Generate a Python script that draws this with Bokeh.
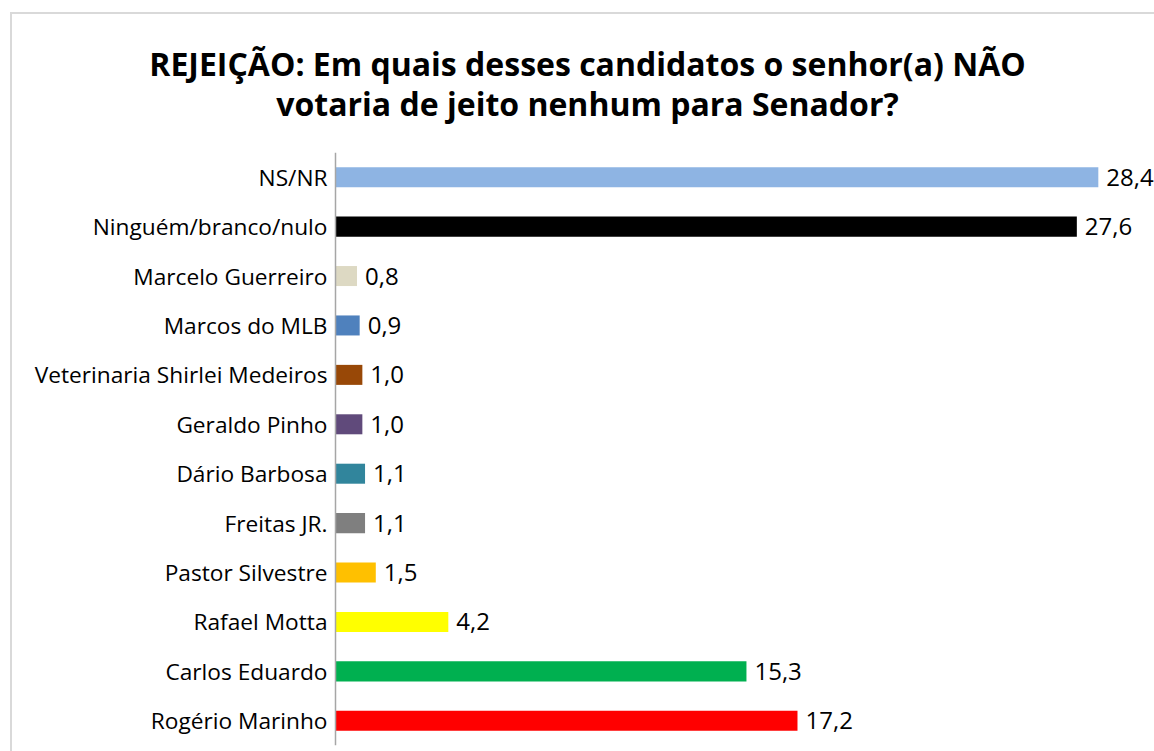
from bokeh.plotting import figure
from bokeh.models import ColumnDataSource, FactorRange, Range1d, LabelSet, Title, InlineStyleSheet
from bokeh.core.properties import value
from bokeh.embed import file_html
from bokeh.resources import INLINE

# Data (top to bottom as shown)
categories = ["NS/NR", "Ninguém/branco/nulo", "Marcelo Guerreiro", "Marcos do MLB",
              "Veterinaria Shirlei Medeiros", "Geraldo Pinho", "Dário Barbosa",
              "Freitas JR.", "Pastor Silvestre", "Rafael Motta", "Carlos Eduardo",
              "Rogério Marinho"]
values = [28.4, 27.6, 0.8, 0.9, 1.0, 1.0, 1.1, 1.1, 1.5, 4.2, 15.3, 17.2]
colors = ["#8EB4E3", "#000000", "#DDD9C3", "#4F81BD", "#984807", "#604A7B",
          "#31859C", "#7F7F7F", "#FFC000", "#FFFF00", "#00B050", "#FF0000"]
title_lines = ["REJEIÇÃO: Em quais desses candidatos o senhor(a) NÃO",
               "votaria de jeito nenhum para Senador?"]

labels = [f"{v:.1f}".replace(".", ",") for v in values]
source = ColumnDataSource(dict(cat=categories, val=values, color=colors, lab=labels))

FONT = "Open Sans"
W, H = 1154, 751
FRAME_LEFT = 20          # frame left edge (px)
AXIS_X = 335             # where the category axis sits (px)
PX_PER_UNIT = 26.86
x_start = -(AXIS_X - FRAME_LEFT) / PX_PER_UNIT
x_end = (W - AXIS_X) / PX_PER_UNIT

p = figure(width=W, height=H, output_backend="svg", toolbar_location=None,
           y_range=FactorRange(factors=list(reversed(categories))),
           x_range=Range1d(x_start, x_end), title=None,
           min_border_left=FRAME_LEFT, min_border_right=0, min_border_top=152,
           min_border_bottom=6)

p.hbar(y="cat", right="val", left=0, height=0.405, color="color", source=source,
       line_color=None)

p.add_layout(LabelSet(x="val", y="cat", text="lab", source=source, x_offset=8,
                      text_baseline="middle", text_font=value(FONT),
                      text_font_size="24px", text_color="#000000"))

p.xaxis.visible = False
p.xgrid.visible = False
p.ygrid.visible = False
p.outline_line_color = None
yax = p.yaxis[0]
yax.fixed_location = 0
yax.axis_line_color = "#A6A6A6"
yax.axis_line_width = 1.5
yax.major_tick_line_color = None
yax.minor_tick_line_color = None
yax.major_tick_out = 0
yax.major_tick_in = 0
yax.major_label_text_font = FONT
yax.major_label_text_font_size = "22.7px"
yax.major_label_text_color = "#000000"
yax.major_label_standoff = 8

p.add_layout(Title(text="\n".join(title_lines), align="center", text_align="center",
                   text_font=FONT, text_font_size="32px", text_font_style="bold",
                   text_color="#000000", text_line_height=0.92, standoff=55), "above")

p.stylesheets = [InlineStyleSheet(css="""
:host::after {
  content: "";
  position: absolute;
  left: 10px; top: 12px; right: 0; bottom: 0;
  border-top: 2px solid #D9D9D9;
  border-left: 2px solid #D9D9D9;
  pointer-events: none;
}
""")]

open("out.html", "w").write(file_html(p, INLINE))
